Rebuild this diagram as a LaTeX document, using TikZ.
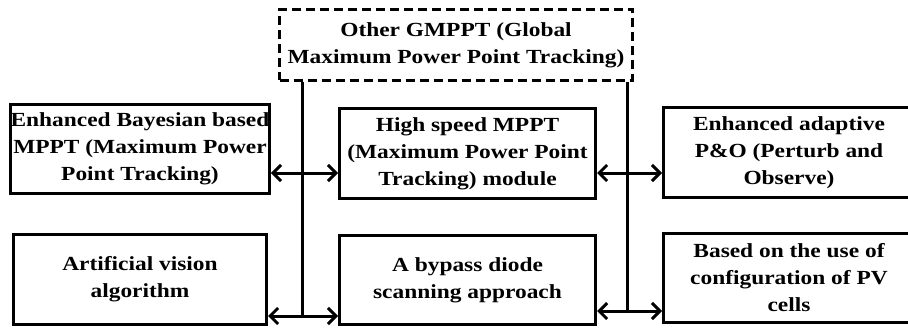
\documentclass[tikz,border=0pt]{standalone}
\usepackage{fontspec}
\setmainfont{Liberation Serif}[FakeStretch=1.17]
\usetikzlibrary{arrows.meta}
\begin{document}
\begin{tikzpicture}[x=1pt,y=-1pt,
  box/.style={draw, line width=3pt, rectangle, inner sep=0pt, align=center,
    font=\fontsize{20}{27}\selectfont\bfseries},
  dbox/.style={box, dash pattern=on 9pt off 5pt},
  link/.style={line width=3pt},
  dlink/.style={line width=3pt, {Straight Barb[length=8pt,width=16pt,line width=3pt]}-{Straight Barb[length=8pt,width=16pt,line width=3pt]}}]
\useasboundingbox (0,0) rectangle (908,329);
\node[dbox, minimum width=353pt, minimum height=71pt] (G) at (456,45)
  {Other GMPPT (Global\\Maximum Power Point Tracking)};
\node[box, minimum width=253pt, minimum height=89pt] (A) at (140,149)
  {Enhanced Bayesian based\\MPPT (Maximum Power\\Point Tracking)};
\node[box, minimum width=256pt, minimum height=90pt] (B) at (467.5,153.5)
  {High speed MPPT\\(Maximum Power Point\\Tracking) module};
\node[box, minimum width=251pt, minimum height=90pt] (C) at (789,152.5)
  {Enhanced adaptive\\P\&O (Perturb and\\Observe)};
\node[box, minimum width=253pt, minimum height=90pt] (D) at (140,279.5)
  {Artificial vision\\algorithm};
\node[box, minimum width=256pt, minimum height=89pt] (E) at (467.5,280)
  {A bypass diode\\scanning approach};
\node[box, minimum width=251pt, minimum height=89pt] (F) at (789,278)
  {Based on the use of\\configuration of PV\\cells};
\coordinate (vL) at (302,0);
\coordinate (vR) at (627,0);
\coordinate (yT) at (0,173);
\coordinate (yBL) at (0,316);
\coordinate (yBR) at (0,311);
\draw[link] (G.south -| vL) -- (vL |- yBL);
\draw[link] (G.south -| vR) -- (vR |- yBR);
\draw[dlink] (A.east |- yT) -- (B.west |- yT);
\draw[dlink] (B.east |- yT) -- (C.west |- yT);
\draw[dlink] (D.east |- yBL) -- (E.west |- yBL);
\draw[dlink] (E.east |- yBR) -- (F.west |- yBR);
\end{tikzpicture}
\end{document}
